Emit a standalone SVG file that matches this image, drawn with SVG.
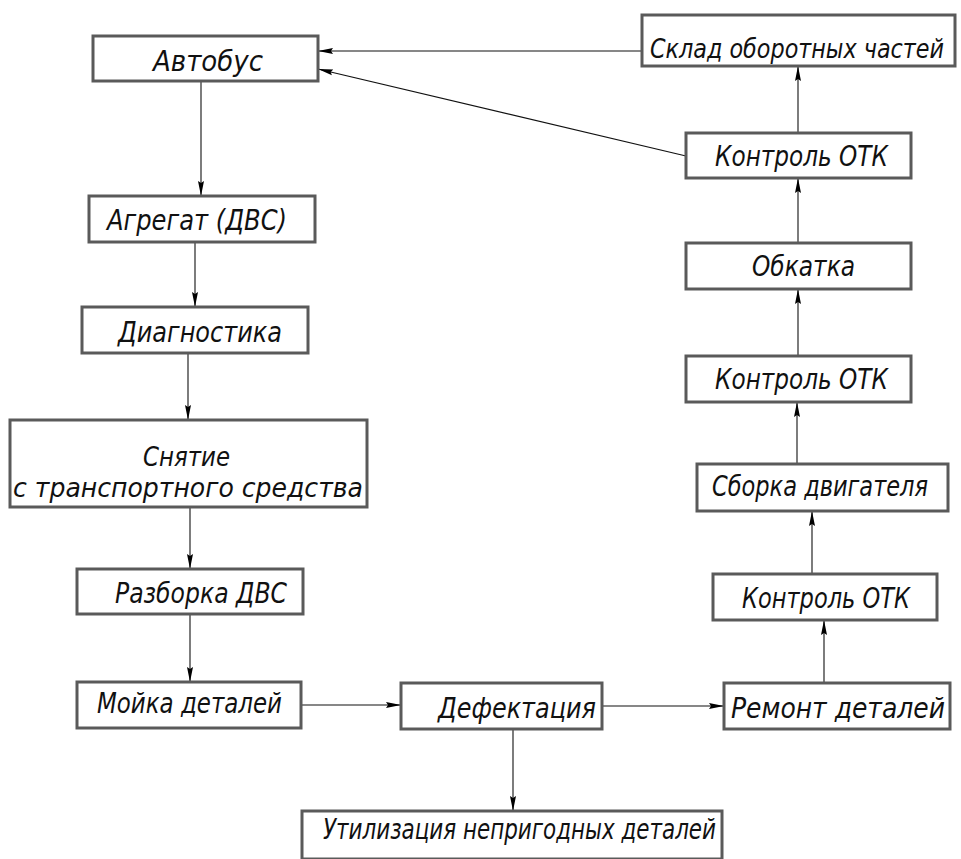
<svg xmlns="http://www.w3.org/2000/svg" width="961" height="859" viewBox="0 0 961 859">
<style>
.box{fill:#fff;stroke:#5a5a5a;stroke-width:3}
.t{font-family:"DejaVu Sans Condensed","Liberation Sans Narrow","Liberation Sans",sans-serif;font-style:italic;font-size:29px;fill:#111}
.s{font-size:26px}
.c{stroke:#111;stroke-width:1.1;fill:none;marker-end:url(#ah)}
</style>
<defs>
<marker id="ah" markerUnits="userSpaceOnUse" markerWidth="17" markerHeight="8" refX="15" refY="3.5" orient="auto">
<path d="M0,0.5 L15,3.5 L0,6.5 L2,3.5 z" fill="#000"/>
</marker>
</defs>
<rect width="961" height="859" fill="#fff"/>
<g id="connectors">
<line class="c" x1="201" y1="81" x2="201" y2="196"/>
<line class="c" x1="195" y1="242" x2="195" y2="307"/>
<line class="c" x1="188" y1="353" x2="188" y2="420"/>
<line class="c" x1="190" y1="507" x2="190" y2="569"/>
<line class="c" x1="190" y1="614" x2="190" y2="682"/>
<line class="c" x1="301" y1="705" x2="401" y2="705"/>
<line class="c" x1="602" y1="706" x2="724" y2="706"/>
<line class="c" x1="513" y1="729" x2="513" y2="811"/>
<line class="c" x1="824" y1="683" x2="824" y2="620"/>
<line class="c" x1="812" y1="574" x2="812" y2="511"/>
<line class="c" x1="797" y1="464" x2="797" y2="402"/>
<line class="c" x1="798" y1="356" x2="798" y2="289"/>
<line class="c" x1="798" y1="243" x2="798" y2="178"/>
<line class="c" x1="798" y1="133" x2="798" y2="66"/>
<line class="c" x1="642" y1="51" x2="318" y2="51"/>
<line class="c" x1="686" y1="156" x2="318" y2="69"/>
</g>
<g id="n_avtobus"><rect class="box" x="93" y="36" width="225" height="45"/><text class="t" x="153" y="71" textLength="110" lengthAdjust="spacingAndGlyphs">Автобус</text></g>
<g id="n_sklad"><rect class="box" x="642" y="15" width="313" height="51"/><text class="t s" x="650" y="58" textLength="294" lengthAdjust="spacingAndGlyphs">Склад оборотных частей</text></g>
<g id="n_kontrol1"><rect class="box" x="686" y="133" width="225" height="45"/><text class="t" x="715" y="166" textLength="173" lengthAdjust="spacingAndGlyphs">Контроль ОТК</text></g>
<g id="n_agregat"><rect class="box" x="89" y="196" width="226" height="46"/><text class="t" x="107" y="230" textLength="180" lengthAdjust="spacingAndGlyphs">Агрегат (ДВС)</text></g>
<g id="n_obkatka"><rect class="box" x="686" y="243" width="225" height="46"/><text class="t" x="752" y="276" textLength="103" lengthAdjust="spacingAndGlyphs">Обкатка</text></g>
<g id="n_diagnostika"><rect class="box" x="82" y="307" width="226" height="46"/><text class="t" x="118" y="342" textLength="164" lengthAdjust="spacingAndGlyphs">Диагностика</text></g>
<g id="n_kontrol2"><rect class="box" x="686" y="356" width="225" height="46"/><text class="t" x="715" y="389" textLength="173" lengthAdjust="spacingAndGlyphs">Контроль ОТК</text></g>
<g id="n_snyatie"><rect class="box" x="10" y="420" width="357" height="87"/><text class="t s" x="143" y="466" textLength="87" lengthAdjust="spacingAndGlyphs">Снятие</text><text class="t s" x="13" y="497" textLength="350" lengthAdjust="spacingAndGlyphs">с транспортного средства</text></g>
<g id="n_sborka"><rect class="box" x="697" y="464" width="251" height="47"/><text class="t" x="712" y="496" textLength="216" lengthAdjust="spacingAndGlyphs">Сборка двигателя</text></g>
<g id="n_razborka"><rect class="box" x="77" y="569" width="226" height="45"/><text class="t" x="115" y="603" textLength="172" lengthAdjust="spacingAndGlyphs">Разборка ДВС</text></g>
<g id="n_kontrol3"><rect class="box" x="713" y="574" width="224" height="46"/><text class="t" x="742" y="608" textLength="168" lengthAdjust="spacingAndGlyphs">Контроль ОТК</text></g>
<g id="n_moyka"><rect class="box" x="77" y="682" width="224" height="46"/><text class="t" x="97" y="713" textLength="185" lengthAdjust="spacingAndGlyphs">Мойка деталей</text></g>
<g id="n_defektaciya"><rect class="box" x="401" y="683" width="201" height="46"/><text class="t" x="438" y="718" textLength="158" lengthAdjust="spacingAndGlyphs">Дефектация</text></g>
<g id="n_remont"><rect class="box" x="724" y="683" width="226" height="46"/><text class="t" x="731" y="718" textLength="214" lengthAdjust="spacingAndGlyphs">Ремонт деталей</text></g>
<g id="n_utilizaciya"><rect class="box" x="302" y="811" width="420" height="48"/><text class="t" x="323" y="839" textLength="393" lengthAdjust="spacingAndGlyphs">Утилизация непригодных деталей</text></g>
</svg>
